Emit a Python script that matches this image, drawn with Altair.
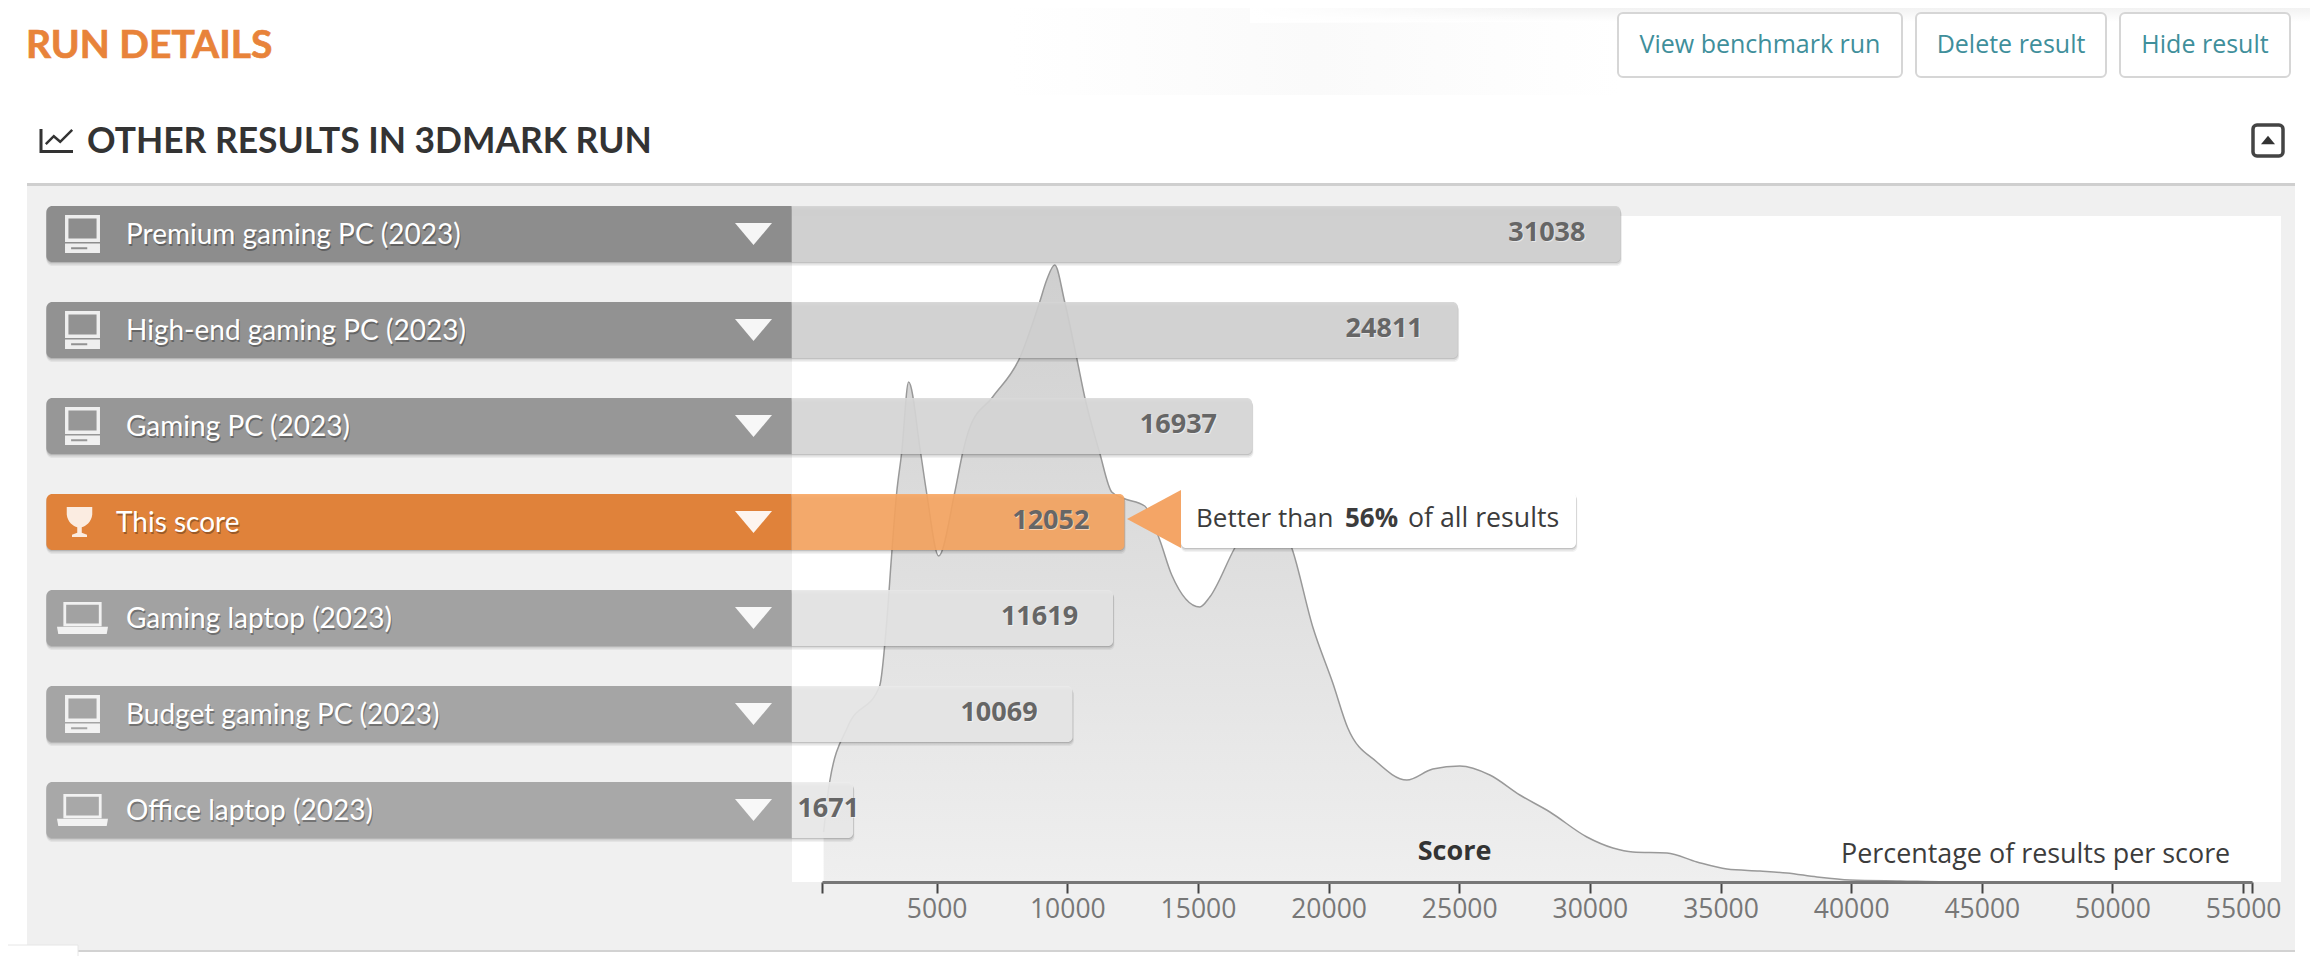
import altair as alt
import pandas as pd

# ---- data ----
categories = ["Premium gaming PC (2023)", "High-end gaming PC (2023)", "Gaming PC (2023)", "This score",
              "Gaming laptop (2023)", "Budget gaming PC (2023)", "Office laptop (2023)"]
scores = [31038, 24811, 16937, 12052, 11619, 10069, 1671]
kinds = ["desktop", "desktop", "desktop", "trophy", "laptop", "desktop", "laptop"]
dark_colors = ["#8d8d8d", "#929292", "#979797", "#e0823a", "#a2a2a2", "#a5a5a5", "#a8a8a8"]
light_colors = ["#d1d1d1", "#d4d4d4", "#d9d9d9", "#f8a662", "#e7e7e7", "#eaeaea", "#ececec"]

curve_score = [674, 904, 1593, 2818, 3086, 3277, 3469, 3660, 3928, 4387, 4617, 5077, 5689, 5995, 6263, 7144,
               8178, 8943, 9211, 9518, 9901, 10360, 10666, 11240, 11700, 12121, 12963, 13538, 13997, 15069,
               15452, 16409, 17443, 18591, 19395, 20161, 20735, 21845, 22994, 23989, 25023, 26171, 27320,
               28469, 29885, 30881, 31646, 32948, 34097, 35245, 36509, 37542, 38691, 39954, 41868, 44433, 55340]
curve_pct = [0.50, 1.00, 1.55, 1.96, 2.59, 3.27, 3.89, 4.29, 5.00, 4.29, 3.89, 3.26, 3.89, 4.29, 4.54, 4.85,
             5.24, 5.80, 6.02, 6.17, 5.80, 5.24, 4.85, 4.29, 3.90, 3.84, 3.76, 3.42, 3.07, 2.75,
             2.85, 3.34, 3.77, 3.34, 2.55, 1.99, 1.54, 1.20, 1.02, 1.13, 1.16, 1.07, 0.87,
             0.70, 0.45, 0.34, 0.30, 0.29, 0.20, 0.13, 0.11, 0.09, 0.05, 0.02, 0.01, 0.0, 0.0]
tick_values = [612, 5000, 10000, 15000, 20000, 25000, 30000, 35000, 40000, 45000, 50000, 55000, 55340]
x_domain = [612, 55340]
pct_domain = [0, 6.66]

# ---- layout helpers: page pixels -> plot pixels ----
ORIGIN_X, ORIGIN_Y = 822, 216
PLOT_W, PLOT_H = 1430, 666
px = lambda v: v - ORIGIN_X
py = lambda v: v - ORIGIN_Y

bars = pd.DataFrame({"cat": categories, "score": scores, "kind": kinds, "dark": dark_colors, "light": light_colors,
                     "left": [-29073] * 7, "split": [-551] * 7})
curve = pd.DataFrame({"score": curve_score, "pct": curve_pct})
one = pd.DataFrame({"a": [0]})

xs = alt.Scale(domain=x_domain, nice=False, zero=False)
ys = alt.Scale(type="point", domain=categories, range=[py(234), py(810)], padding=0)
row_y = alt.Y("cat:N", scale=ys, axis=None)
ps = alt.Scale(domain=pct_domain, range=[PLOT_H, 0], nice=False, zero=False)
x_axis = alt.Axis(
    values=tick_values, title="Score", titleFont="Open Sans", titleFontSize=27, titleFontWeight="bold",
    titleColor="#333333", titleX=px(1454), titleY=-31, titleBaseline="middle", titleAlign="center",
    labelFont="Open Sans", labelFontSize=26.5, labelColor="#777777", labelPadding=3, labelOverlap=False,
    labelFlush=False, labelExpr="datum.value % 5000 === 0 ? format(datum.value, 'd') : ''",
    domainColor="#777777", domainWidth=3, tickColor="#444444", tickWidth=2, tickSize=11,
    grid=False, zindex=1)


def X(field):
    return alt.X(field, scale=xs, axis=x_axis)


def box(x0, x1, y0, y1, fill, **kw):
    return alt.Chart(one).mark_rect(fill=fill, **kw).encode(
        x=alt.value(px(x0)), x2=alt.value(px(x1)), y=alt.value(py(y0)), y2=alt.value(py(y1)))


def label(text, x, y, size, color, font="Open Sans", weight="normal", align="left", **kw):
    return alt.Chart(one).mark_text(font=font, fontSize=size, fontWeight=weight, color=color, align=align,
                                    baseline="middle", **kw).encode(
        x=alt.value(px(x)), y=alt.value(py(y)), text=alt.value(text))


def glyph(path, x, y, w, **kw):
    return alt.Chart(one).mark_point(shape=path, size=w * w, **kw).encode(
        x=alt.value(px(x)), y=alt.value(py(y)))


layers = []
# page decoration
layers += [
    alt.Chart(one).mark_rect(color=alt.LinearGradient(gradient="linear", x1=0, x2=1, y1=0, y2=0, stops=[
        alt.GradientStop(offset=0, color="#ffffff"), alt.GradientStop(offset=0.5, color="#fafafa"),
        alt.GradientStop(offset=1, color="#ffffff")])).encode(
        x=alt.value(px(1010)), x2=alt.value(px(1620)), y=alt.value(py(8)), y2=alt.value(py(95))),
    alt.Chart(one).mark_rect(color=alt.LinearGradient(gradient="linear", x1=0, x2=0, y1=0, y2=1, stops=[
        alt.GradientStop(offset=0, color="#f2f2f2"), alt.GradientStop(offset=1, color="#ffffff")])).encode(
        x=alt.value(px(1250)), x2=alt.value(px(2310)), y=alt.value(py(8)), y2=alt.value(py(22))),
    alt.Chart(one).mark_rect(color=alt.LinearGradient(gradient="linear", x1=0, x2=1, y1=0, y2=0, stops=[
        alt.GradientStop(offset=0, color="rgba(255,255,255,1)"),
        alt.GradientStop(offset=1, color="rgba(255,255,255,0)")])).encode(
        x=alt.value(px(1250)), x2=alt.value(px(1550)), y=alt.value(py(8)), y2=alt.value(py(23))),
    box(27, 2295, 185, 950, "#f0f0f0"),
    box(27, 2295, 183, 186, "#cfcfcf"),
    box(27, 2295, 950, 952, "#d2d2d2"),
    box(792, 2281, 216, 882, "#ffffff"),
    label("RUN DETAILS", 26, 46, 39, "#e8833a", font="Lato", weight="bold", stroke="#e8833a", strokeWidth=0.7),
    label("OTHER RESULTS IN 3DMARK RUN", 87, 142, 35.4, "#333333", font="Lato", weight="bold"),
    glyph("M-1,-0.75L-1,0.65L1,0.65", 57, 141, 32, filled=False, stroke="#333333", strokeWidth=3, opacity=1),
    glyph("M-0.7,0.2L-0.2,-0.3L0.2,0.05L0.95,-0.7", 57, 141, 32, filled=False, stroke="#333333", strokeWidth=2.5, opacity=1),
]
for x0, x1, txt, tx in [(1618, 1902, "View benchmark run", 1760), (1916, 2106, "Delete result", 2011),
                        (2120, 2290, "Hide result", 2205)]:
    layers += [box(x0, x1, 13, 77, "#ffffff", stroke="#d6d6d6", strokeWidth=2, cornerRadius=5),
               label(txt, tx, 45, 25, "#3f8f9b", align="center")]
layers += [
    box(2253, 2283, 125, 156, "#ffffff", stroke="#444444", strokeWidth=3.5, cornerRadius=4),
    glyph("M-1,0.6L0,-0.6L1,0.6Z", 2268, 140, 14, filled=True, color="#333333", opacity=1),
]

# density
layers += [
    alt.Chart(curve).mark_area(interpolate="monotone", color=alt.LinearGradient(
        gradient="linear", x1=1, x2=1, y1=0, y2=1,
        stops=[alt.GradientStop(offset=0, color="#cfcfcf"), alt.GradientStop(offset=1, color="#efefef")])).encode(
        x=X("score:Q"), y=alt.Y("pct:Q", scale=ps, axis=None)),
    alt.Chart(curve).mark_line(interpolate="monotone", color="#999999", strokeWidth=1.5).encode(
        x=X("score:Q"), y=alt.Y("pct:Q", scale=ps, axis=None)),
]

# bars: soft shadow, light part, dark part
base = alt.Chart(bars)
for off, op in [(4, 0.05), (2.5, 0.09), (1, 0.12)]:
    layers.append(base.mark_bar(size=56, color="#000000", opacity=op, yOffset=off, x2Offset=3.5 + off / 3,
                                cornerRadiusTopRight=5, cornerRadiusBottomRight=5,
                                cornerRadiusTopLeft=6, cornerRadiusBottomLeft=6).encode(
        x=X("left:Q"), x2="score:Q", y=row_y))
layers += [
    base.mark_bar(size=56, opacity=0.9, x2Offset=3.5, cornerRadiusTopRight=5, cornerRadiusBottomRight=5).encode(
        x=X("split:Q"), x2="score:Q", y=row_y,
        color=alt.Color("light:N", scale=None)),
    base.mark_bar(size=56, cornerRadiusTopLeft=6, cornerRadiusBottomLeft=6).encode(
        x=X("left:Q"), x2="split:Q", y=row_y,
        color=alt.Color("dark:N", scale=None)),
]


def row_marks(test):
    return base.transform_filter(test)


# row icons
desktop_frame = "M-0.92,-1H0.92V0.42H-0.92ZM-0.74,-0.82V0.24H0.74V-0.82Z"
desktop_base = "M-0.92,0.5H0.92V1H-0.92ZM-0.6,0.7V0.8H0.25V0.7Z"
laptop_frame = "M-0.75,-0.63H0.75V0.32H-0.75ZM-0.64,-0.52V0.22H0.64V-0.52Z"
laptop_base = "M-1,0.34H1L0.95,0.63H-0.95Z"
trophy = ("M-0.85,-1H0.85V-0.5C0.8,0 0.4,0.3 0.15,0.35V0.72L0.5,0.85V1H-0.5V0.85L-0.15,0.72V0.35"
          "C-0.4,0.3 -0.8,0 -0.85,-0.5Z")
for path, kind, w, x in [(desktop_frame, "desktop", 38, 82.5), (desktop_base, "desktop", 38, 82.5),
                         (laptop_frame, "laptop", 51, 82.5), (laptop_base, "laptop", 51, 82.5),
                         (trophy, "trophy", 30, 79.5)]:
    layers.append(row_marks(f"datum.kind === '{kind}'").mark_point(
        shape=path, size=w * w, filled=True, color="#ffffff", opacity=0.85, strokeWidth=0).encode(
        x=alt.value(px(x)), y=row_y))

# row names with their shadow
for test, x in [("datum.kind !== 'trophy'", 126), ("datum.kind === 'trophy'", 116)]:
    for col, op, dx, dy in [("#000000", 0.30, 1, 2), ("#ffffff", 1, 0, 0)]:
        layers.append(row_marks(test).mark_text(font="Lato", fontSize=28, align="left", baseline="middle",
                                                color=col, opacity=op, dx=dx, dy=dy + 2).encode(
            x=alt.value(px(x)), y=row_y, text="cat:N"))
# triangles
layers.append(base.mark_point(shape="M-1,-0.6H1L0,0.6Z", size=37 * 37, filled=True, color="#ffffff", opacity=0.92,
                              strokeWidth=0).encode(x=alt.value(px(753.5)), y=row_y))
# score values
for test, dx in [("datum.score > 5000", -31.5), ("datum.score <= 5000", 9.5)]:
    for col, op, d in [("#ffffff", 0.5, 1), ("#666666", 1, 0)]:
        layers.append(row_marks(test).mark_text(font="Open Sans", fontWeight="bold", fontSize=27, align="right",
                                                baseline="middle", color=col, opacity=op, dx=dx + d, dy=-1 + d).encode(
            x=X("score:Q"), y=row_y, text="score:Q"))

# callout
for off, op in [(4, 0.05), (2.5, 0.09), (1, 0.12)]:
    layers.append(box(1181, 1576 + off / 3, 492 + off, 548 + off, "#000000", opacity=op, cornerRadius=5))
layers += [
    box(1181, 1576, 492, 548, "#ffffff", cornerRadius=5),
    glyph("M-0.93,0L0.93,-1V1Z", 1154, 519, 58, filled=True, color="#f4a566", opacity=1, strokeWidth=0),
    label("Better than", 1196, 519, 26, "#3c3c3c"),
    label("56%", 1345, 519, 26, "#3c3c3c", weight="bold"),
    label("of all results", 1408, 519, 26.7, "#3c3c3c"),
    label("Percentage of results per score", 1841, 855, 26.9, "#3c3c3c"),
    box(4, 78, 945, 960, "#ffffff", stroke="#e6e6e6", strokeWidth=1),
]

chart = alt.layer(*layers).resolve_scale(y="independent").properties(
    width=PLOT_W, height=PLOT_H, background="#ffffff",
    padding={"left": ORIGIN_X - 8, "top": ORIGIN_Y - 8, "right": 58, "bottom": 74},
    autosize=alt.AutoSizeParams(type="none"),
).configure_view(stroke=None)

chart.save("out.html", embed_options={"renderer": "svg", "actions": False})
